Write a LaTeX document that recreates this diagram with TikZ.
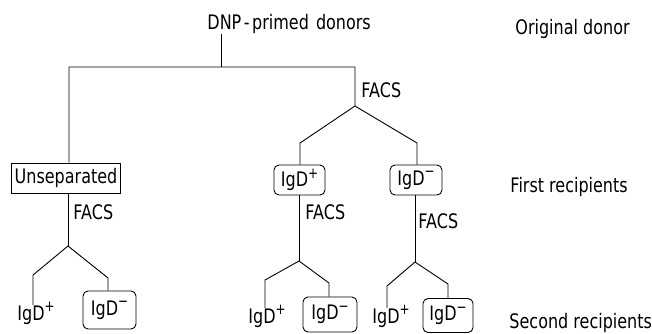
\documentclass[tikz,border=0pt]{standalone}
\usepackage{fontspec}
\setmainfont{DejaVu Sans}[FakeStretch=0.8]
\newcommand{\supsign}[1]{\raisebox{0.42em}{\fontsize{15}{15}\selectfont #1}}
\begin{document}
\begin{tikzpicture}[x=1pt,y=-1pt,line width=0.9pt,line join=miter,
  txt/.style={inner sep=0pt,font=\fontsize{20}{23}\selectfont},
  sqbox/.style={draw,inner sep=0pt,minimum height=30,font=\fontsize{20}{23}\selectfont},
  rbox/.style={draw,rounded corners=5pt,inner sep=0pt,font=\fontsize{20}{23}\selectfont}]
\useasboundingbox (0,0) rectangle (652,333);

% labels
\node[txt,anchor=base west] (dnp) at (207,29) {DNP\kern2.5pt-\kern2.5pt primed\kern2pt\ donors};
\node[txt,anchor=base west] (orig) at (515,34) {Original donor};
\node[txt,anchor=base west] (first) at (510,192) {First recipients};
\node[txt,anchor=base west] (second) at (509,328) {Second recipients};
\node[txt,anchor=base west] (facs0) at (361,97) {FACS};
\node[txt,anchor=base west] (facs1) at (73,219) {FACS};
\node[txt,anchor=base west] (facs2) at (305,219) {FACS};
\node[txt,anchor=base west] (facs3) at (418,228) {FACS};

% first recipients
\node[sqbox,minimum width=109] (unsep) at (66,178) {Unseparated};
\node[rbox,minimum width=51,minimum height=30] (p1) at (299.5,180) {IgD\supsign{+}};
\node[rbox,minimum width=52,minimum height=30] (m1) at (416,180) {IgD\supsign{−}};

% second recipients
\node[txt,anchor=base west] (p2a) at (17,320) {IgD\supsign{+}};
\node[rbox,minimum width=53,minimum height=38] (m2a) at (109.5,310) {IgD\supsign{−}};
\node[txt,anchor=base west] (p2b) at (248,323) {IgD\supsign{+}};
\node[rbox,minimum width=54,minimum height=35] (m2b) at (330,314.5) {IgD\supsign{−}};
\node[txt,anchor=base west] (p2c) at (372,323) {IgD\supsign{+}};
\node[rbox,minimum width=50,minimum height=34] (m2c) at (448,315.5) {IgD\supsign{−}};

% junctions
\coordinate (t0) at (221,67);
\coordinate (tl) at (69,67);
\coordinate (tr) at (355,67);
\coordinate (s1) at (355,106);
\coordinate (s1l) at (300,143);
\coordinate (s1r) at (417,143);
\coordinate (s2) at (68,246);
\coordinate (s2l) at (33,275);
\coordinate (s2r) at (108,278);
\coordinate (s3) at (299,261);
\coordinate (s3l) at (265,280);
\coordinate (s3r) at (329,283);
\coordinate (s4) at (415,262);
\coordinate (s4l) at (387,286);
\coordinate (s4r) at (448,284);

% connectors
\draw (dnp.south -| t0) -- (t0);
\draw (unsep.north -| tl) -- (tl) -- (tr) -- (s1) -- (s1l) -- (s1l |- p1.north);
\draw (s1) -- (s1r) -- (s1r |- m1.north);

\draw (unsep.south -| s2) -- (s2);
\draw ([yshift=-3pt]p2a.north -| s2l) -- (s2l) -- (s2) -- (s2r) -- (s2r |- m2a.north);

\draw (p1.south -| s3) -- (s3);
\draw ([yshift=-3pt]p2b.north -| s3l) -- (s3l) -- (s3) -- (s3r) -- (s3r |- m2b.north);

\draw (m1.south -| s4) -- (s4);
\draw ([yshift=-3pt]p2c.north -| s4l) -- (s4l) -- (s4) -- (s4r) -- (s4r |- m2c.north);
\end{tikzpicture}
\end{document}
